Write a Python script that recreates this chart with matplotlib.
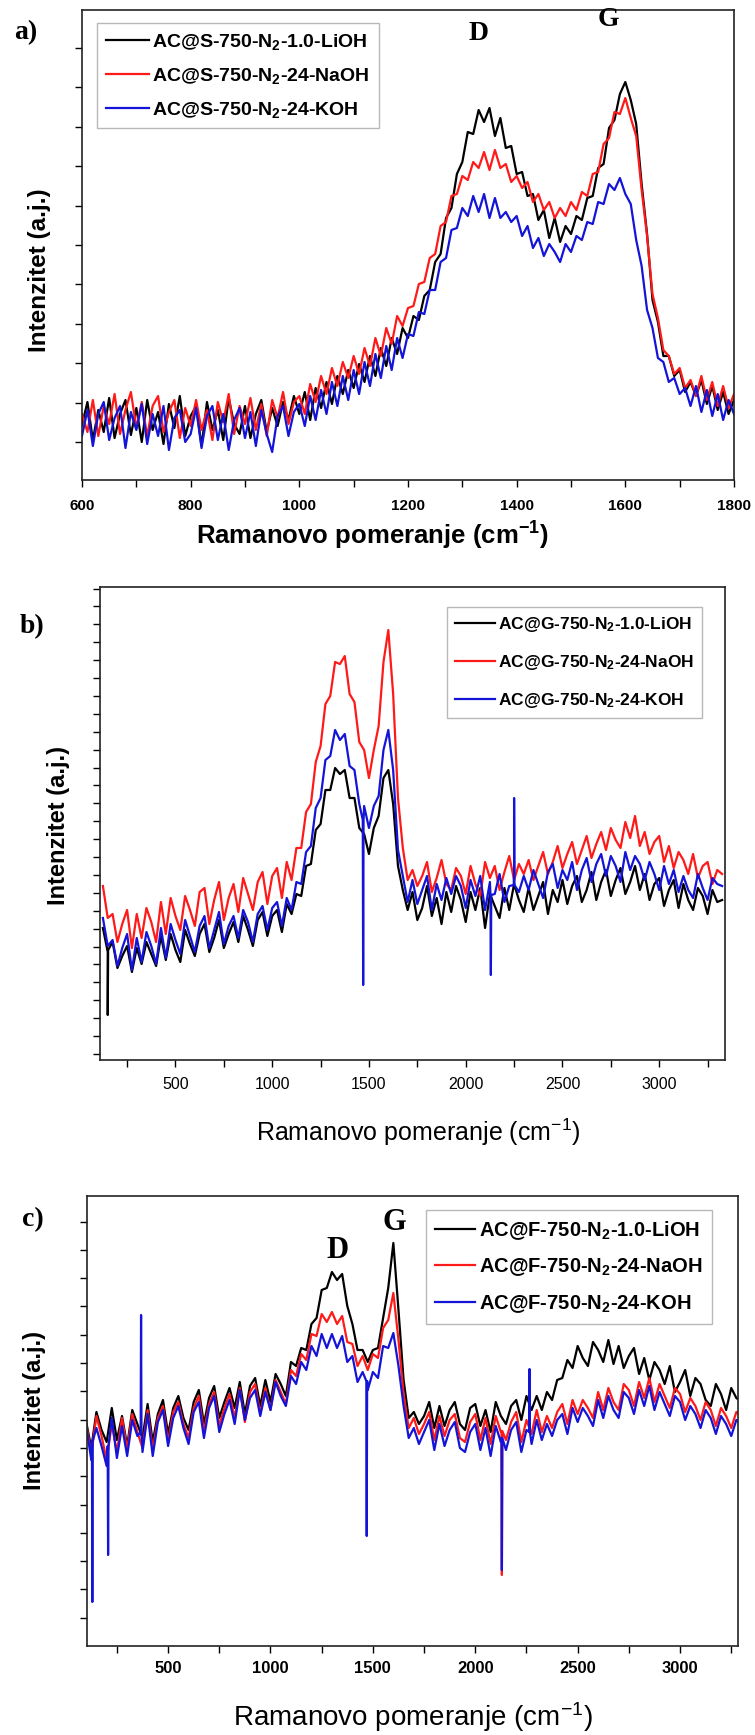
import matplotlib
matplotlib.use("Agg")
import matplotlib.pyplot as plt
import numpy as np

W, H = 755, 1735
plt.rcParams["font.family"] = ["Liberation Sans", "DejaVu Sans"]
plt.rcParams["mathtext.default"] = "regular"

COLORS = ["#000000", "#ff1a1a", "#1414d8"]

# ---------------- panel a: AC@S ----------------
X_A = np.arange(600, 1801, 10)
LIOH_A = [
    55, 78, 40, 70, 48, 82, 42, 66, 80, 45,
    72, 38, 80, 50, 68, 36, 76, 52, 84, 44,
    64, 74, 34, 78, 50, 70, 40, 82, 56, 46,
    74, 42, 66, 80, 48, 72, 54, 78, 60, 84,
    66, 88, 60, 92, 72, 98, 76, 104, 86, 110,
    92, 116, 98, 124, 104, 132, 114, 142, 126, 152,
    142, 164, 160, 184, 190, 218, 226, 262, 272, 306,
    318, 348, 346, 370, 358, 372, 344, 362, 332, 334,
    306, 308, 284, 286, 260, 270, 242, 262, 238, 254,
    246, 264, 260, 282, 284, 312, 316, 352, 360, 386,
    398, 380, 356, 296, 246, 180, 158, 124, 124, 104,
    110, 88, 98, 84, 100, 76, 94, 70, 88, 66,
    80]
NAOH_A = [
    66, 48, 80, 44, 74, 56, 86, 46, 70, 88,
    52, 78, 44, 74, 84, 48, 68, 80, 42, 72,
    54, 80, 50, 70, 40, 78, 58, 86, 46, 74,
    56, 82, 50, 76, 44, 80, 62, 88, 56, 78,
    84, 66, 96, 78, 104, 86, 112, 94, 118, 102,
    124, 106, 132, 114, 142, 124, 152, 136, 164, 154,
    172, 174, 196, 198, 222, 226, 254, 258, 284, 286,
    304, 300, 318, 312, 328, 310, 330, 312, 316, 298,
    304, 292, 298, 278, 286, 270, 278, 262, 272, 264,
    278, 270, 288, 284, 306, 308, 336, 342, 368, 366,
    382, 362, 344, 290, 244, 186, 162, 130, 124, 106,
    112, 92, 100, 84, 104, 80, 98, 74, 94, 72,
    86]
KOH_A = [
    44, 70, 34, 66, 78, 40, 62, 74, 32, 68,
    50, 76, 36, 66, 44, 74, 30, 62, 70, 38,
    46, 72, 32, 64, 74, 40, 66, 30, 60, 72,
    42, 68, 34, 70, 46, 28, 64, 74, 44, 68,
    76, 54, 84, 60, 90, 66, 98, 74, 104, 80,
    110, 86, 118, 94, 126, 102, 134, 110, 142, 122,
    146, 144, 168, 166, 190, 190, 218, 222, 250, 252,
    272, 264, 284, 268, 286, 262, 282, 262, 268, 258,
    264, 244, 254, 232, 242, 224, 236, 228, 218, 236,
    228, 244, 240, 258, 256, 278, 276, 296, 290, 302,
    286, 276, 240, 214, 170, 152, 122, 118, 98, 102,
    86, 92, 74, 94, 68, 90, 64, 86, 60, 80,
    66]
LABELS_A = ["AC@S-750-N$_2$-1.0-LiOH", "AC@S-750-N$_2$-24-NaOH",
            "AC@S-750-N$_2$-24-KOH"]

# ---------------- panel b: AC@G ----------------
X_B = np.arange(125, 3326, 25)
LIOH_B = [
    132, 108, 118, 92, 104, 114, 88, 112,
    96, 118, 106, 94, 124, 100, 126, 110,
    98, 130, 116, 104, 126, 136, 108, 122,
    140, 112, 126, 138, 118, 144, 130, 114,
    140, 148, 124, 144, 150, 128, 156, 146,
    166, 164, 194, 196, 230, 236, 270, 270,
    292, 286, 290, 262, 262, 232, 226, 206,
    232, 244, 282, 290, 256, 194, 170, 150,
    168, 140, 152, 174, 144, 162, 136, 168,
    148, 174, 160, 138, 168, 150, 172, 132,
    166, 154, 142, 172, 150, 176, 160, 148,
    172, 150, 164, 178, 146, 170, 158, 180,
    156, 174, 184, 158, 170, 188, 160, 178,
    190, 164, 180, 192, 166, 178, 194, 170,
    186, 160, 176, 182, 154, 170, 180, 152,
    176, 160, 150, 172, 164, 146, 170, 158,
    160]
NAOH_B = [
    174, 142, 146, 118, 136, 150, 112, 146,
    122, 152, 138, 118, 158, 126, 162, 144,
    130, 164, 150, 134, 168, 172, 136, 160,
    178, 140, 162, 176, 148, 182, 166, 150,
    178, 188, 156, 184, 192, 162, 198, 180,
    212, 212, 248, 256, 298, 314, 356, 364,
    398, 396, 404, 366, 358, 318, 310, 282,
    310, 334, 398, 430, 366, 262, 212, 180,
    190, 174, 184, 198, 168, 182, 200, 176,
    170, 192, 184, 166, 194, 176, 164, 198,
    182, 194, 170, 188, 204, 180, 196, 186,
    200, 180, 194, 208, 186, 198, 214, 192,
    206, 218, 196, 210, 224, 202, 216, 228,
    210, 232, 220, 212, 238, 222, 244, 214,
    228, 206, 218, 224, 198, 214, 192, 208,
    200, 186, 206, 182, 194, 198, 176, 190,
    186]
KOH_B = [
    142, 114, 120, 94, 112, 126, 90, 122,
    98, 128, 114, 96, 132, 102, 136, 120,
    106, 140, 124, 108, 134, 144, 112, 130,
    148, 116, 134, 144, 122, 150, 138, 118,
    146, 154, 130, 152, 158, 134, 162, 150,
    178, 176, 208, 214, 252, 262, 300, 304,
    330, 320, 326, 294, 290, 256, 254, 232,
    254, 264, 310, 330, 290, 210, 184, 158,
    180, 156, 170, 184, 150, 176, 160, 182,
    166, 184, 174, 152, 180, 164, 184, 150,
    178, 166, 186, 158, 174, 188, 168, 184,
    170, 190, 176, 162, 188, 196, 172, 190,
    180, 198, 170, 190, 202, 178, 196, 206,
    184, 204, 194, 178, 208, 190, 204, 196,
    180, 198, 186, 170, 194, 176, 190, 168,
    184, 170, 162, 186, 172, 160, 182, 176,
    174]
# (position, local level, spike tip)
SPIKES_LIOH_B = [(150, 110, 45)]
SPIKES_NAOH_B = []
SPIKES_KOH_B = [(1470, 240, 75), (2130, 165, 85), (2250, 175, 262)]
LABELS_B = ["AC@G-750-N$_2$-1.0-LiOH", "AC@G-750-N$_2$-24-NaOH",
            "AC@G-750-N$_2$-24-KOH"]

# ---------------- panel c: AC@F ----------------
X_C = np.arange(100, 3301, 25)
LIOH_C = [
    224, 198, 234, 216, 204, 238, 206, 230,
    200, 236, 222, 208, 242, 204, 232, 246,
    212, 238, 250, 228, 216, 244, 256, 222,
    248, 260, 228, 244, 258, 238, 264, 232,
    260, 268, 240, 266, 244, 272, 262, 250,
    284, 280, 298, 296, 322, 328, 356, 358,
    374, 366, 372, 340, 322, 296, 296, 284,
    296, 298, 328, 358, 403, 336, 266, 228,
    234, 222, 230, 244, 218, 240, 220, 236,
    244, 222, 216, 238, 242, 220, 236, 214,
    244, 230, 222, 240, 246, 226, 250, 236,
    250, 236, 254, 246, 266, 268, 286, 278,
    300, 288, 280, 304, 296, 284, 306, 282,
    300, 278, 290, 298, 272, 288, 266, 284,
    276, 262, 280, 254, 264, 276, 250, 268,
    262, 246, 240, 262, 252, 236, 258, 248,
    244]
NAOH_C = [
    222, 192, 230, 210, 186, 222, 194, 228,
    196, 232, 214, 198, 236, 196, 228, 240,
    204, 234, 244, 222, 208, 238, 250, 214,
    242, 254, 220, 238, 252, 228, 258, 224,
    254, 262, 232, 258, 236, 266, 254, 242,
    276, 270, 292, 286, 312, 310, 332, 324,
    334, 322, 330, 304, 302, 280, 290, 276,
    292, 288, 318, 326, 353, 306, 252, 218,
    228, 212, 222, 234, 206, 230, 210, 226,
    232, 208, 204, 224, 232, 206, 228, 202,
    230, 214, 206, 224, 234, 204, 226, 212,
    236, 214, 230, 218, 234, 242, 222, 246,
    232, 246, 238, 228, 254, 236, 258, 244,
    236, 262, 256, 240, 264, 248, 268, 244,
    262, 250, 238, 258, 252, 234, 248, 240,
    226, 244, 236, 220, 238, 230, 218, 234,
    230]
KOH_C = [
    220, 186, 218, 200, 180, 228, 188, 220,
    190, 226, 210, 194, 232, 190, 224, 236,
    200, 228, 240, 218, 202, 234, 244, 208,
    238, 250, 214, 232, 246, 222, 256, 226,
    248, 256, 230, 254, 236, 264, 250, 240,
    270, 262, 284, 276, 300, 290, 312, 298,
    312, 298, 310, 284, 290, 264, 274, 256,
    274, 268, 300, 298, 313, 280, 240, 208,
    218, 202, 214, 226, 196, 222, 200, 216,
    224, 198, 194, 214, 222, 196, 218, 190,
    220, 204, 196, 216, 224, 194, 216, 202,
    226, 206, 222, 210, 226, 232, 212, 238,
    224, 238, 230, 220, 246, 228, 250, 236,
    228, 254, 248, 232, 256, 240, 260, 236,
    254, 242, 230, 250, 244, 226, 240, 232,
    218, 236, 228, 212, 230, 222, 210, 226,
    222]
SPIKES_LIOH_C = []
SPIKES_NAOH_C = [(2130, 215, 71)]
SPIKES_KOH_C = [(130, 205, 44), (207, 200, 91), (368, 214, 331),
                (1470, 265, 110), (2130, 208, 76), (2265, 214, 277)]
LABELS_C = ["AC@F-750-N$_2$-1.0-LiOH", "AC@F-750-N$_2$-24-NaOH",
            "AC@F-750-N$_2$-24-KOH"]


def with_spikes(x, y, spikes):
    xs, ys = list(x), list(y)
    for pos, base, tip in spikes:
        xs += [pos - 2, pos, pos + 2]
        ys += [base, tip, base]
    order = np.argsort(xs, kind="stable")
    return np.asarray(xs)[order], np.asarray(ys)[order]


fig = plt.figure(figsize=(W / 100, H / 100), dpi=100)


def add_axes(left, top, right, bottom):
    return fig.add_axes([left / W, 1 - bottom / H,
                         (right - left) / W, (bottom - top) / H])


def style_axes(ax, height, ytick_step, ytick_start, xticks, xminor, xlim,
               tick_weight, tick_size, pad):
    ax.set_xlim(*xlim)
    ax.set_ylim(0, height)
    ax.set_yticks(np.arange(ytick_start, height, ytick_step))
    ax.set_yticklabels([])
    ax.set_xticks(xticks)
    ax.set_xticks(xminor, minor=True)
    ax.set_xticklabels([str(t) for t in xticks], fontsize=tick_size,
                       fontweight=tick_weight)
    ax.tick_params(axis="both", which="both", direction="out", length=5,
                   width=1.0, top=False, right=False, pad=pad)
    for s in ax.spines.values():
        s.set_linewidth(1.2)
        s.set_color("#222222")


def legend(ax, labels, x0, y0, size, spacing, handle):
    ax.legend(labels, loc="upper left",
              bbox_to_anchor=(x0 / W, 1 - y0 / H),
              bbox_transform=fig.transFigure, borderaxespad=0,
              prop={"size": size, "weight": "bold"}, frameon=True,
              fancybox=False, edgecolor="#b8b8b8", framealpha=1,
              labelspacing=spacing, handlelength=handle,
              handletextpad=0.2, borderpad=0.45)


LW = 1.6

# panel a
ax = add_axes(82, 10, 734, 480)
for y, c in zip([LIOH_A, NAOH_A, KOH_A], COLORS):
    ax.plot(X_A, y, color=c, lw=LW)
style_axes(ax, 470, 39.4, 38, list(range(600, 1801, 200)),
           list(range(700, 1800, 200)), (600, 1800), "bold", 11, 9)
legend(ax, LABELS_A, 97, 23, 14, 0.72, 2.2)
ax.text(1330, 447, "D", family="Liberation Serif", fontweight="bold",
        fontsize=20, ha="center", va="center")
ax.text(1568, 461, "G", family="Liberation Serif", fontweight="bold",
        fontsize=20, ha="center", va="center")
fig.text(14 / W, 1 - 33 / H, "a)", family="Liberation Serif",
         fontweight="bold", fontsize=20, va="center")
fig.text(40 / W, 1 - 270 / H, "Intenzitet (a.j.)", rotation=90,
         fontweight="bold", fontsize=17.5, ha="center", va="center")
fig.text(372 / W, 1 - 536 / H, "Ramanovo pomeranje (cm$^{-1}$)",
         fontweight="bold", fontsize=18.5, ha="center", va="center")

# panel b
ax = add_axes(100, 587, 725, 1060)
for y, sp, c in zip([LIOH_B, NAOH_B, KOH_B],
                    [SPIKES_LIOH_B, SPIKES_NAOH_B, SPIKES_KOH_B], COLORS):
    xs, ys = with_spikes(X_B, y, sp)
    ax.plot(xs, ys, color=c, lw=LW)
style_axes(ax, 473, 17.9, 6, list(range(500, 3001, 500)),
           list(range(250, 3300, 500)), (110, 3340), "normal", 11.5, 7)
legend(ax, LABELS_B, 447, 607, 12.5, 1.1, 2.3)
fig.text(20 / W, 1 - 627 / H, "b)", family="Liberation Serif",
         fontweight="bold", fontsize=20, va="center")
fig.text(58 / W, 1 - 825 / H, "Intenzitet (a.j.)", rotation=90,
         fontweight="bold", fontsize=17, ha="center", va="center")
fig.text(418 / W, 1 - 1132 / H, "Ramanovo pomeranje (cm$^{-1}$)",
         fontsize=18, ha="center", va="center")

# panel c
ax = add_axes(87, 1196, 738, 1646)
for y, sp, c in zip([LIOH_C, NAOH_C, KOH_C],
                    [SPIKES_LIOH_C, SPIKES_NAOH_C, SPIKES_KOH_C], COLORS):
    xs, ys = with_spikes(X_C, y, sp)
    ax.plot(xs, ys, color=c, lw=LW)
style_axes(ax, 450, 28.3, 28.3, list(range(500, 3001, 500)),
           list(range(250, 3300, 500)), (104, 3283), "bold", 12, 6)
legend(ax, LABELS_C, 426, 1210, 14.5, 0.72, 2.0)
ax.text(1325, 396, "D", family="Liberation Serif", fontweight="bold",
        fontsize=22, ha="center", va="center")
ax.text(1603, 423, "G", family="Liberation Serif", fontweight="bold",
        fontsize=22, ha="center", va="center")
fig.text(22 / W, 1 - 1220 / H, "c)", family="Liberation Serif",
         fontweight="bold", fontsize=20, va="center")
fig.text(35 / W, 1 - 1410 / H, "Intenzitet (a.j.)", rotation=90,
         fontweight="bold", fontsize=17, ha="center", va="center")
fig.text(413 / W, 1 - 1717 / H, "Ramanovo pomeranje (cm$^{-1}$)",
         fontsize=20, ha="center", va="center")

fig.savefig("out.png", dpi=100)
